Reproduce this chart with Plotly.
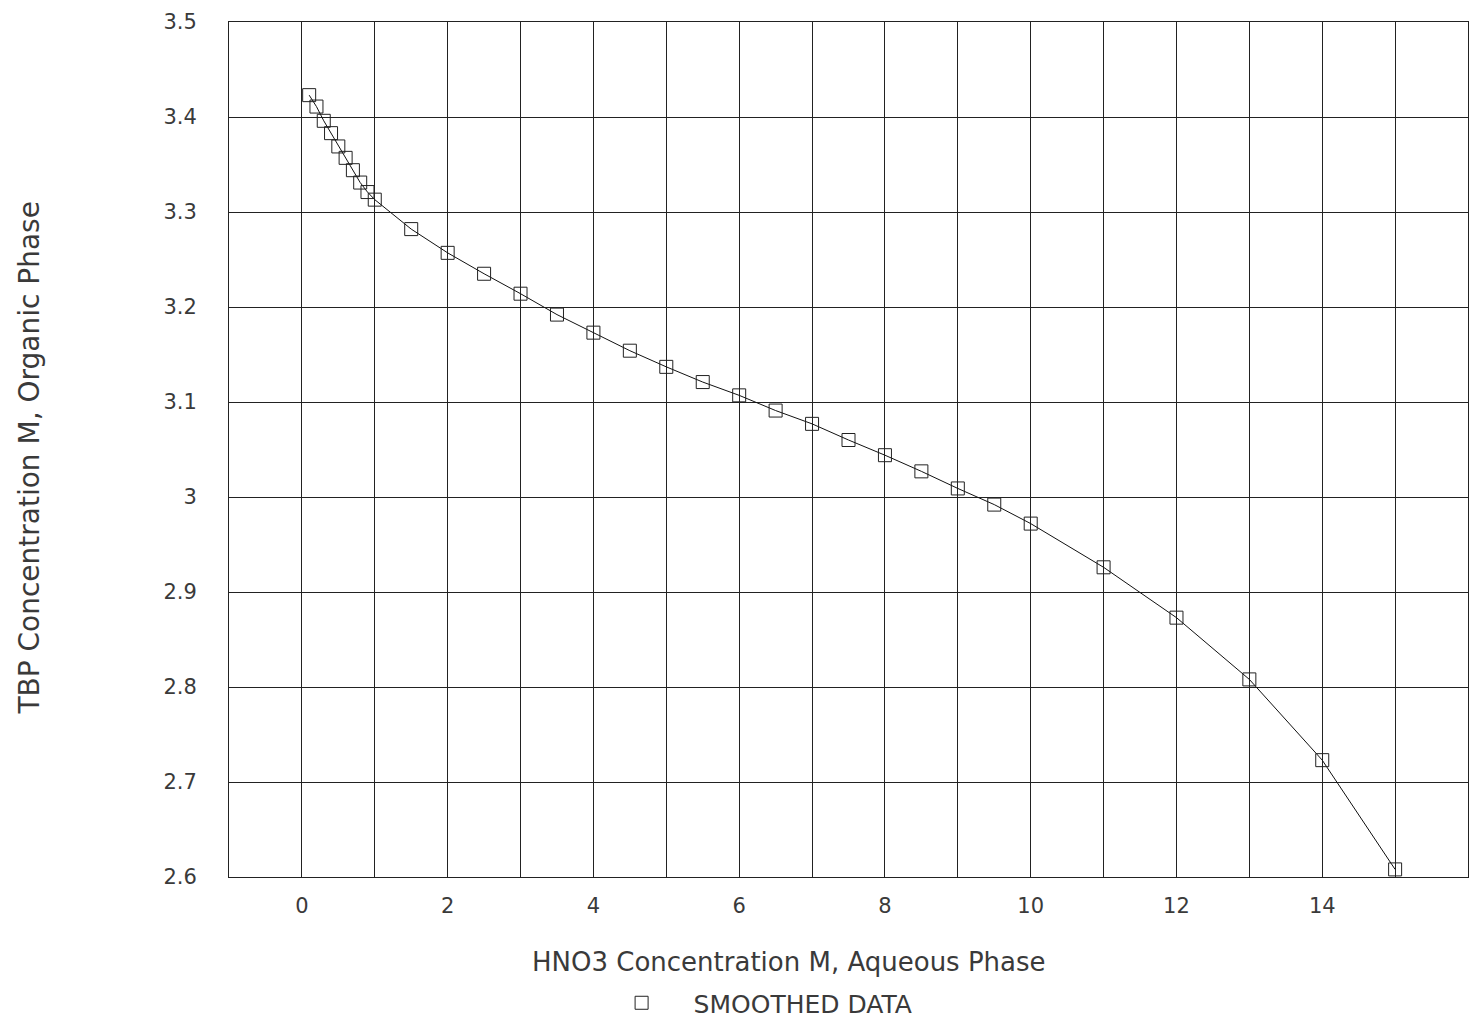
import plotly.graph_objects as go

# HNO3 concentration (M, aqueous phase)
hno3 = [0.1, 0.2, 0.3, 0.4, 0.5, 0.6, 0.7, 0.8, 0.9, 1.0,
        1.5, 2.0, 2.5, 3.0, 3.5, 4.0, 4.5, 5.0, 5.5, 6.0,
        6.5, 7.0, 7.5, 8.0, 8.5, 9.0, 9.5, 10.0, 11.0, 12.0,
        13.0, 14.0, 15.0]
# TBP concentration (M, organic phase) - smoothed data
tbp = [3.423, 3.411, 3.396, 3.383, 3.369, 3.357, 3.344, 3.331, 3.321, 3.313,
       3.282, 3.257, 3.235, 3.214, 3.192, 3.173, 3.154, 3.137, 3.121, 3.107,
       3.091, 3.077, 3.060, 3.044, 3.027, 3.009, 2.992, 2.972, 2.926, 2.873,
       2.808, 2.723, 2.608]

x_ticks = [0, 2, 4, 6, 8, 10, 12, 14]
y_ticks = [2.6, 2.7, 2.8, 2.9, 3.0, 3.1, 3.2, 3.3, 3.4, 3.5]
y_tick_text = ["2.6", "2.7", "2.8", "2.9", "3", "3.1", "3.2", "3.3", "3.4", "3.5"]

FONT = "DejaVu Sans"
TXT = "#3a3a3a"

fig = go.Figure()
fig.add_trace(go.Scatter(
    x=hno3, y=tbp, mode="lines+markers",
    line=dict(color="#111111", width=1),
    marker=dict(symbol="square-open", size=13, color="#222222", line=dict(width=1)),
    showlegend=False,
))
fig.add_trace(go.Scatter(
    x=[None], y=[None], mode="markers", name="SMOOTHED DATA",
    marker=dict(symbol="square-open", size=13, color="#222222", line=dict(width=1)),
))

fig.update_layout(
    width=1474, height=1021,
    margin=dict(l=229, r=6, t=22, b=144),
    paper_bgcolor="white", plot_bgcolor="white",
    font=dict(family=FONT, size=21, color=TXT),
    showlegend=True,
    legend=dict(orientation="h", xref="container", yref="container",
                x=0.400, y=0.0176, xanchor="left", yanchor="middle",
                font=dict(family=FONT, size=25, color=TXT), itemwidth=94),
    xaxis=dict(range=[-1, 16], tickvals=x_ticks, ticks="", showgrid=True,
               gridcolor="#222222", gridwidth=1, zeroline=False,
               showline=True, linecolor="#222222", linewidth=1, mirror=True,
               minor=dict(dtick=1, tick0=0, showgrid=True, gridcolor="#222222", gridwidth=1),
               tickfont=dict(family=FONT, size=21, color=TXT), ticklabelstandoff=10),
    yaxis=dict(range=[2.6, 3.5], tickvals=y_ticks, ticktext=y_tick_text, ticks="",
               showgrid=True, gridcolor="#222222", gridwidth=1, zeroline=False,
               showline=True, linecolor="#222222", linewidth=1, mirror=True,
               tickfont=dict(family=FONT, size=21, color=TXT), ticklabelstandoff=27),
    annotations=[
        dict(text="HNO3 Concentration M, Aqueous Phase", xref="paper", yref="paper",
             x=0.452, y=-0.0994, xanchor="center", yanchor="middle", showarrow=False,
             font=dict(family=FONT, size=26, color=TXT)),
        dict(text="TBP Concentration M, Organic Phase", xref="paper", yref="paper",
             x=-0.161, y=0.49, xanchor="center", yanchor="middle", showarrow=False,
             textangle=-90, font=dict(family=FONT, size=28, color=TXT)),
    ],
)

fig.write_html("out.html")
